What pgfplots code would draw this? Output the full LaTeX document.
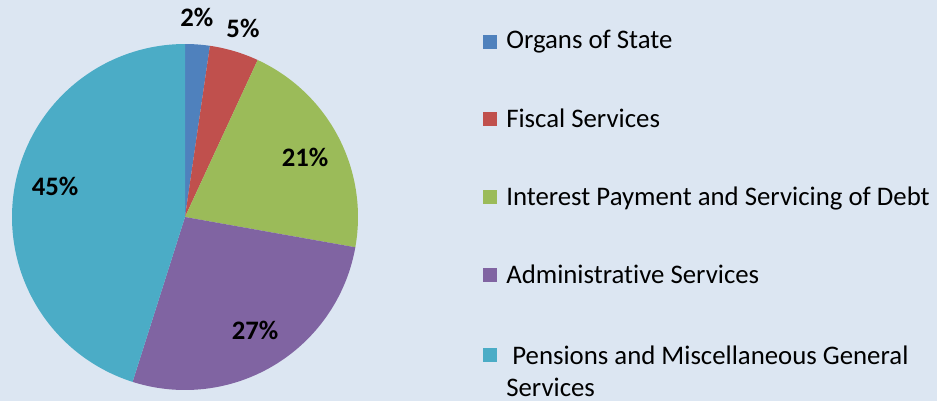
\documentclass[border=0pt]{standalone}
\usepackage{pgfplots}
\pgfplotsset{compat=1.18}
\usepackage{fontspec}
\setmainfont[Ligatures=NoCommon]{Carlito}
\definecolor{bg}{HTML}{DCE6F2}
\definecolor{c1}{HTML}{4F81BD}
\definecolor{c2}{HTML}{C0504D}
\definecolor{c3}{HTML}{9BBB59}
\definecolor{c4}{HTML}{8064A2}
\definecolor{c5}{HTML}{4BACC6}
% shares (percent)
\def\va{2.3}\def\vb{4.6}\def\vc{20.9}\def\vd{27.1}\def\ve{45.1}
\pgfmathsetmacro\aA{90}
\pgfmathsetmacro\aB{90-3.6*\va}
\pgfmathsetmacro\aC{\aB-3.6*\vb}
\pgfmathsetmacro\aD{\aC-3.6*\vc}
\pgfmathsetmacro\aE{\aD-3.6*\vd}
\pgfmathsetmacro\aF{\aE-3.6*\ve}
\begin{document}
\begin{tikzpicture}
\fill[bg] (0,0) rectangle (702.75pt,300.75pt);
\begin{axis}[at={(138.75pt,138pt)}, anchor=center, scale only axis,
  width=259.5pt, height=259.5pt, xmin=-1, xmax=1, ymin=-1, ymax=1,
  hide axis, clip=false]
\addplot[fill=c1, draw=none, domain=\aB:\aA, samples=20] ({cos(x)},{sin(x)}) -- (axis cs:0,0) -- cycle;
\addplot[fill=c2, draw=none, domain=\aC:\aB, samples=20] ({cos(x)},{sin(x)}) -- (axis cs:0,0) -- cycle;
\addplot[fill=c3, draw=none, domain=\aD:\aC, samples=60] ({cos(x)},{sin(x)}) -- (axis cs:0,0) -- cycle;
\addplot[fill=c4, draw=none, domain=\aE:\aD, samples=80] ({cos(x)},{sin(x)}) -- (axis cs:0,0) -- cycle;
\addplot[fill=c5, draw=none, domain=\aF:\aE, samples=120] ({cos(x)},{sin(x)}) -- (axis cs:0,0) -- cycle;
\begin{scope}[font=\fontsize{20}{24}\selectfont\bfseries]
\node at (axis cs:0.069,1.156) {2\%};
\node at (axis cs:0.335,1.092) {5\%};
\node at (axis cs:0.694,0.347) {21\%};
\node at (axis cs:0.405,-0.653) {27\%};
\node at (axis cs:-0.751,0.179) {45\%};
\end{scope}
\end{axis}
\begin{scope}[x=0.75pt,y=0.75pt,font=\fontsize{20.1}{24}\selectfont]
\fill[c1] (483,352) rectangle (497,366);
\fill[c2] (483,275) rectangle (497,289);
\fill[c3] (483,197) rectangle (497,211);
\fill[c4] (483,119) rectangle (497,133);
\fill[c5] (483,39) rectangle (497,53);
\node[anchor=base west, inner sep=0] at (506,353) {Organs of State};
\node[anchor=base west, inner sep=0] at (506,274) {Fiscal Services};
\node[anchor=base west, inner sep=0] at (506,196) {Interest Payment and Servicing of Debt};
\node[anchor=base west, inner sep=0] at (506,118) {Administrative Services};
\node[anchor=base west, inner sep=0] at (506,37) {\ Pensions and Miscellaneous General};
\node[anchor=base west, inner sep=0] at (506,5) {Services};
\end{scope}
\end{tikzpicture}
\end{document}
